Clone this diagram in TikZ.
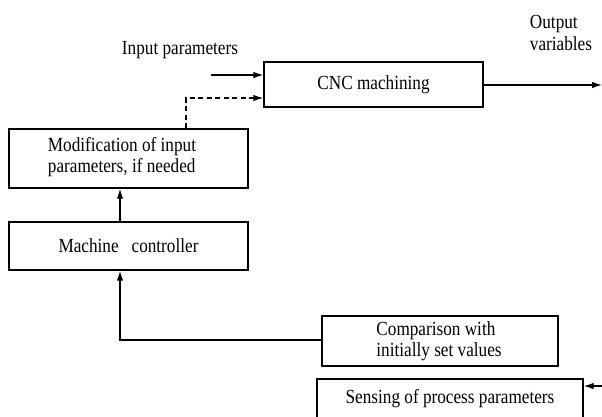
\documentclass[tikz,border=0pt]{standalone}
\usepackage{fontspec}
\setmainfont[FakeStretch=0.86]{Liberation Serif}
\usepackage{tikz}
\usetikzlibrary{arrows.meta}

\begin{document}
\begin{tikzpicture}[x=1pt,y=-1pt,
  blk/.style={draw, line width=1.3pt, inner sep=0pt},
  lbl/.style={inner sep=0pt, align=left},
  conn/.style={-{Latex[length=10pt,width=6.5pt]}, line width=1.3pt},
  every node/.style={font=\fontsize{20}{21.5}\selectfont},
  ]
\useasboundingbox (0,0) rectangle (602,416);
\clip (0,0) rectangle (602,416);
\node [blk, minimum width=219pt, minimum height=45pt] (cnc) at (373.5,84.5) {CNC machining};
\node [blk, minimum width=239pt, minimum height=59pt] (mod) at (128.5,158.5) {};
\node [lbl] (modt) at (122,157) {Modification of input\\parameters, if needed};
\node [blk, minimum width=239pt, minimum height=48pt] (mc) at (128.5,246) {Machine\ \ \ controller};
\node [blk, minimum width=236pt, minimum height=50pt] (cmp) at (440,341) {};
\node [lbl] (cmpt) at (439,341) {Comparison with\\initially set values};
\node [blk, minimum width=266pt, minimum height=40pt] (sense) at (450,399) {Sensing of process parameters};
\node [lbl] (inp) at (180,50) {Input parameters};
\node [lbl] (outp) at (561,33) {Output\\variables};
\coordinate (in) at (211,75);
\coordinate (out) at (602,85);
\coordinate (sin) at (602,386);
\draw [conn] (in) -- (in -| cnc.west);
\draw [conn] (cnc.east |- out) -- (out);
\draw [conn, dash pattern=on 5pt off 3.5pt] (mod.north -| 186,0) |- (cnc.west |- 0,98);
\draw [conn] (mc.north -| 120,0) -- (mod.south -| 120,0);
\draw [conn] (cmp.west |- 0,340) -| (mc.south -| 120,0);
\draw [conn] (sin) -- (sin -| sense.east);
\end{tikzpicture}
\end{document}
